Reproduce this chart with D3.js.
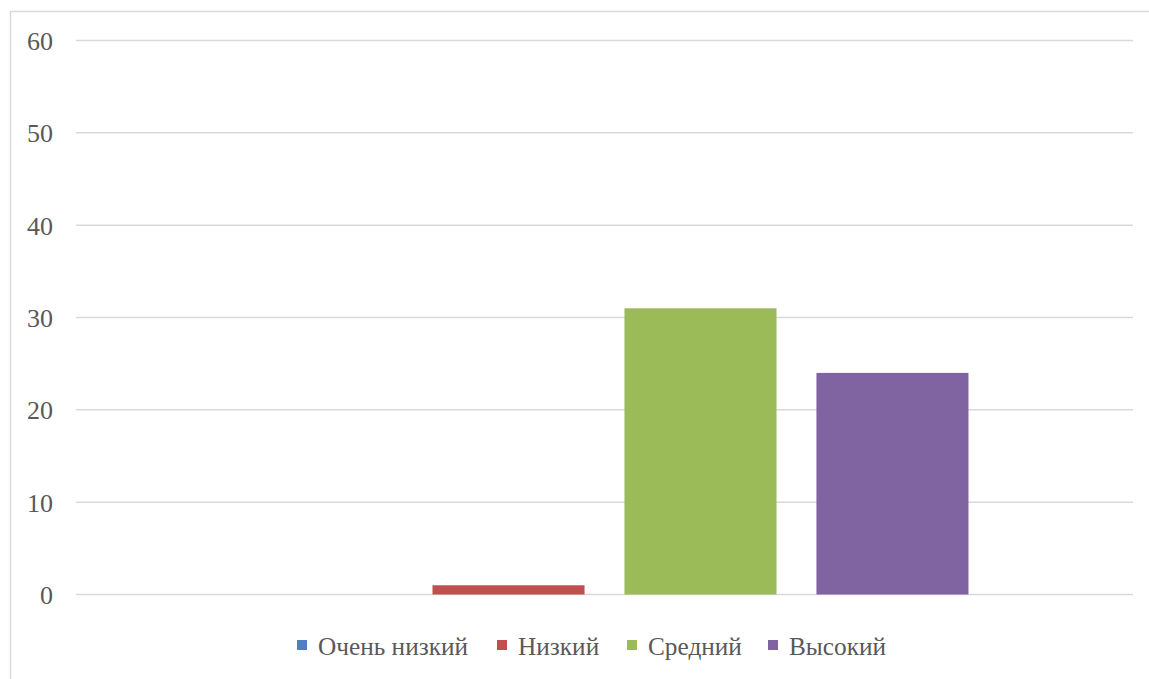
<!DOCTYPE html>
<html>
<head>
<meta charset="utf-8">
<script src="https://cdn.jsdelivr.net/npm/d3@7"></script>
<style>
  html, body { margin: 0; padding: 0; background: #fff; }
  svg { display: block; }
  text { font-family: "Liberation Serif", "DejaVu Serif", serif; fill: #595959; }
</style>
</head>
<body>
<svg id="chart" width="1149" height="679"></svg>
<script>
// Survey levels and counts
const categories = ["Очень низкий", "Низкий", "Средний", "Высокий"];
const values = [0, 1, 31, 24];
const colors = ["#4F81BD", "#C0504D", "#9BBB59", "#8064A2"];
const yTicks = [0, 10, 20, 30, 40, 50, 60];

const svg = d3.select("#chart");
const W = 1149, H = 679;

// Outer chart frame
svg.append("rect")
  .attr("x", 10.5).attr("y", 11.5)
  .attr("width", W + 20).attr("height", H + 20)
  .attr("fill", "#fff").attr("stroke", "#d9d9d9").attr("stroke-width", 1.5);

const plot = { left: 76, right: 1133, top: 40.5, bottom: 594.5 };

const y = d3.scaleLinear().domain([0, 60]).range([plot.bottom, plot.top]);

// Single category group holding four series bars
const groupX = d3.scaleBand().domain(["g"]).range([plot.left, plot.right]).paddingInner(0).paddingOuter(0.226);
const x = d3.scaleBand().domain(categories)
  .range([groupX("g"), groupX("g") + groupX.bandwidth()])
  .paddingInner(0.208).paddingOuter(0);

// Gridlines
svg.append("g").selectAll("line").data(yTicks).join("line")
  .attr("x1", plot.left).attr("x2", plot.right)
  .attr("y1", d => y(d)).attr("y2", d => y(d))
  .attr("stroke", "#d9d9d9").attr("stroke-width", 1.5);

// Y axis labels
const yAxis = d3.axisLeft(y).tickValues(yTicks).tickSize(0).tickPadding(0);
const ya = svg.append("g").attr("transform", `translate(53,0)`).call(yAxis);
ya.select(".domain").remove();
ya.selectAll("text").attr("font-size", 26).attr("font-family", "Liberation Serif").attr("fill", "#595959").attr("dy", "0.35em");

// Bars
svg.append("g").selectAll("rect").data(categories).join("rect")
  .attr("x", d => x(d))
  .attr("width", x.bandwidth())
  .attr("y", (d, i) => y(values[i]))
  .attr("height", (d, i) => y(0) - y(values[i]))
  .attr("fill", (d, i) => colors[i]);

// Legend
const legendX = [297, 497, 627, 768];
const lg = svg.append("g");
categories.forEach((c, i) => {
  const g = lg.append("g").attr("transform", `translate(${legendX[i]},640)`);
  g.append("rect").attr("width", 10).attr("height", 10).attr("fill", colors[i]);
  g.append("text").attr("x", 21).attr("y", 6).attr("dy", "0.35em")
    .attr("font-size", 25.3).text(c);
});
</script>
</body>
</html>
